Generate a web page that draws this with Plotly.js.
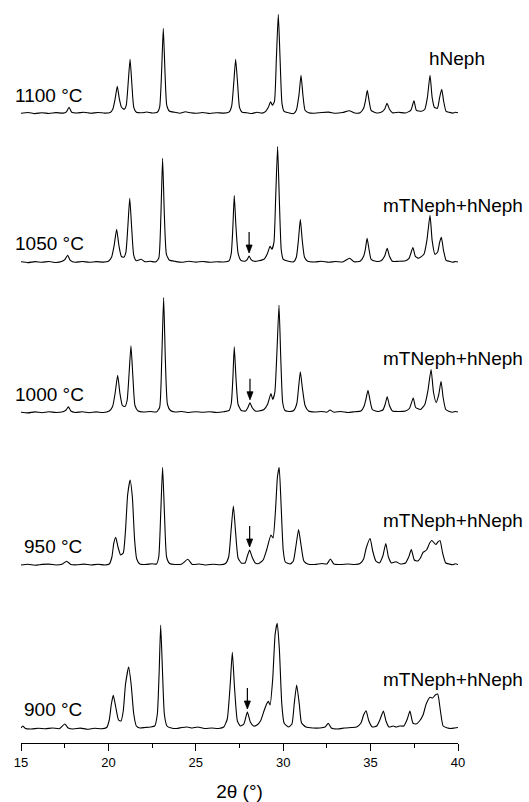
<!DOCTYPE html>
<html>
<head>
<meta charset="utf-8">
<script src="https://cdn.plot.ly/plotly-3.0.1.min.js"></script>
<style>html,body{margin:0;padding:0;background:#fff;}#chart{width:529px;height:802px;}</style>
</head>
<body>
<div id="chart"></div>
<script>
// Sample temperatures (top to bottom) and phase labels
const temperatures = ["1100", "1050", "1000", "950", "900"];
const phases = ["hNeph", "mTNeph+hNeph", "mTNeph+hNeph", "mTNeph+hNeph", "mTNeph+hNeph"];
// Vertical stacking offset of each pattern (arbitrary intensity units)
const offsets = [629.7, 480.7, 330.5, 178, 14];
// Position of the marked mTNeph reflection (2θ) per pattern (null = none)
const markedPeak = [null, 28.05, 28.1, 28.08, 27.95];

// Digitised patterns: [2θ (deg), intensity above baseline (a.u.)]
const p1100 = [[15.0,0],[15.4,0.8],[15.8,-0.3],[16.2,0.6],[16.6,-0.2],[17.0,0.7],[17.4,0.2],[17.6,1.5],[17.75,6],[17.9,1],[18.2,0.3],[18.6,1],[19.0,0],[19.4,0.8],[19.8,0.2],[20.1,0.8],[20.25,4],[20.38,14],[20.51,27],[20.62,15],[20.75,6],[20.9,4],[21.02,8],[21.13,30],[21.24,54],[21.34,30],[21.45,6],[21.6,1],[21.9,0.5],[22.2,1.3],[22.5,0.3],[22.8,1],[22.93,6],[23.04,40],[23.14,85],[23.24,40],[23.34,8],[23.5,2],[23.8,1],[24.1,0],[24.4,1.5],[24.7,0.5],[25.0,0],[25.4,0.8],[25.8,-0.2],[26.2,0.6],[26.6,0.2],[26.9,1.2],[27.05,7],[27.17,30],[27.28,54],[27.39,30],[27.5,6],[27.65,1],[27.9,0.6],[28.2,-0.2],[28.5,1],[28.8,0.2],[29.0,2],[29.15,6],[29.28,11.5],[29.38,8],[29.5,12],[29.61,55],[29.72,99],[29.82,55],[29.93,10],[30.05,2],[30.3,0.5],[30.6,-0.3],[30.75,3],[30.9,18],[31.02,38],[31.13,18],[31.25,3],[31.45,0.5],[31.8,0],[32.2,0.8],[32.6,1.2],[33.0,0],[33.4,0.8],[33.78,2.5],[34.1,0.3],[34.4,0.6],[34.6,5],[34.7,12],[34.81,23],[34.92,12],[35.03,3],[35.3,0.5],[35.6,1],[35.8,4],[35.94,10],[36.08,4],[36.25,0.5],[36.6,1],[37.0,0.3],[37.3,3],[37.48,12.5],[37.62,3],[37.9,2],[38.1,4],[38.25,16],[38.4,38],[38.52,16],[38.65,6],[38.82,5],[38.95,16],[39.07,24],[39.18,12],[39.32,2],[39.5,1],[39.7,0.2],[39.85,1],[40.0,0.5]];

const p1050 = [[15.0,0.5],[15.4,-0.3],[15.8,0.7],[16.2,0],[16.6,0.8],[17.0,-0.2],[17.35,1],[17.52,3],[17.67,7],[17.82,2],[18.1,0],[18.5,0.8],[18.9,0],[19.3,0.7],[19.7,0.2],[20.0,1],[20.18,5],[20.33,17],[20.47,33],[20.6,17],[20.74,6],[20.88,5],[21.0,10],[21.11,35],[21.22,64],[21.33,35],[21.45,7],[21.6,1.5],[21.87,3],[22.1,0.5],[22.4,1],[22.7,0.3],[22.88,4],[23.0,45],[23.1,104],[23.2,48],[23.32,8],[23.5,2],[23.8,1],[24.2,0],[24.6,1],[25.0,0.2],[25.4,0.8],[25.8,0],[26.2,0.6],[26.6,0.3],[26.9,1.5],[27.03,9],[27.12,35],[27.2,66.7],[27.3,35],[27.42,9],[27.58,2],[27.8,1],[27.95,3],[28.05,6.3],[28.15,3],[28.35,1],[28.6,1.5],[28.9,3],[29.08,8],[29.25,16],[29.35,13],[29.47,20],[29.57,65],[29.68,115.7],[29.78,62],[29.89,12],[30.0,3],[30.3,1],[30.6,0.5],[30.75,5],[30.87,22],[30.98,43],[31.09,22],[31.22,5],[31.4,1],[31.8,0.3],[32.2,1],[32.6,0],[33.0,0.8],[33.4,0.3],[33.8,4],[34.05,0.5],[34.4,1],[34.6,6],[34.7,13],[34.8,24],[34.91,13],[35.03,3],[35.3,1],[35.6,1.5],[35.8,6],[35.95,14],[36.08,6],[36.25,1],[36.6,1],[37.0,1.5],[37.2,4],[37.42,14.7],[37.56,6],[37.75,4],[38.05,8],[38.22,22],[38.4,47],[38.52,22],[38.68,8],[38.83,10],[38.95,20],[39.05,25],[39.17,12],[39.32,2],[39.5,1],[39.7,0],[39.85,0.8],[40.0,0.3]];

const p1000 = [[15.0,0.3],[15.4,-0.4],[15.8,0.6],[16.2,-0.2],[16.6,0.7],[17.0,0],[17.4,0.8],[17.58,2.5],[17.71,5.7],[17.85,1.5],[18.1,0],[18.5,0.7],[18.9,-0.2],[19.3,0.6],[19.7,0],[20.05,1.5],[20.24,6],[20.39,20],[20.53,37.3],[20.66,19],[20.8,7],[20.95,6],[21.07,12],[21.18,38],[21.29,66.7],[21.4,36],[21.52,7],[21.7,1.5],[22.0,0.5],[22.4,1],[22.75,0.6],[22.93,5],[23.05,52],[23.16,115],[23.26,52],[23.38,8],[23.55,2],[23.8,0.5],[24.2,1],[24.6,0],[25.0,0.8],[25.4,0.2],[25.8,0.7],[26.2,0],[26.6,0.8],[26.9,2],[27.03,9],[27.12,34],[27.2,65.7],[27.3,34],[27.42,8],[27.6,2],[27.85,1.5],[27.98,5],[28.1,9.7],[28.22,5],[28.4,1.5],[28.6,1.5],[28.9,3],[29.1,8],[29.3,19],[29.4,13],[29.52,20],[29.64,60],[29.76,107.3],[29.86,55],[29.97,10],[30.1,2],[30.4,1],[30.6,2],[30.78,9],[30.88,25],[30.98,40.7],[31.1,24],[31.25,7],[31.45,1.5],[31.8,0.5],[32.2,1],[32.5,0.3],[32.68,2.5],[32.9,0.3],[33.3,1],[33.7,0],[34.1,0.8],[34.45,1.5],[34.62,6],[34.73,13],[34.85,22.3],[34.97,12],[35.1,3],[35.4,1],[35.7,2.5],[35.83,8],[35.95,15.7],[36.08,7],[36.25,1.5],[36.6,1],[37.0,1.5],[37.22,4],[37.44,14.5],[37.58,5],[37.85,3],[38.1,8],[38.28,22],[38.46,43],[38.6,20],[38.75,10],[38.9,18],[39.03,31.3],[39.15,15],[39.3,3],[39.5,1],[39.7,0.3],[39.85,1],[40.0,0.5]];

const p950 = [[15.0,0],[15.4,0.8],[15.8,-0.2],[16.2,0.6],[16.6,0.9],[17.0,0],[17.35,0.8],[17.61,3.7],[17.85,0.5],[18.2,0.2],[18.6,0.9],[19.0,0],[19.4,0.7],[19.8,0],[20.05,1],[20.2,8],[20.31,22],[20.42,27.7],[20.55,18],[20.7,10],[20.85,12],[20.98,35],[21.1,70],[21.24,85],[21.37,68],[21.5,25],[21.62,6],[21.8,1],[22.1,0.5],[22.5,1.2],[22.75,1],[22.88,8],[22.99,50],[23.1,97.7],[23.21,50],[23.33,8],[23.5,1.5],[23.8,0.5],[24.2,1],[24.54,5.7],[24.8,0.5],[25.2,1],[25.6,0],[26.0,0.8],[26.4,0.2],[26.7,1.5],[26.88,8],[27.02,35],[27.15,59],[27.28,32],[27.42,7],[27.6,2],[27.82,2],[27.95,9],[28.08,15],[28.22,8],[28.4,2],[28.6,1.5],[28.85,5],[29.05,15],[29.3,30],[29.42,27],[29.56,55],[29.67,88],[29.77,97.5],[29.88,60],[30.0,15],[30.12,3],[30.4,1],[30.58,4],[30.72,18],[30.88,35.5],[31.02,20],[31.18,4],[31.4,1],[31.8,0.5],[32.2,1.5],[32.5,1],[32.7,6],[32.9,1],[33.3,0.5],[33.7,1],[34.1,0.5],[34.4,1.5],[34.6,6],[34.75,17],[34.97,26.5],[35.12,14],[35.3,4],[35.5,2],[35.7,9],[35.87,21.5],[36.02,8],[36.2,2],[36.45,3.3],[36.7,1],[37.0,2],[37.18,8],[37.33,15.5],[37.5,5],[37.7,4],[37.85,7],[38.0,12.7],[38.2,15],[38.38,22],[38.5,24.5],[38.73,20.5],[38.85,23],[38.97,24.5],[39.12,12],[39.3,2],[39.5,1],[39.7,0.2],[39.85,1.2],[40.0,0.5]];

const p900 = [[15.0,1],[15.1,3],[15.25,0.5],[15.6,0],[16.0,0.8],[16.4,0.2],[16.8,1],[17.2,0.3],[17.5,5],[17.7,1],[18.0,0],[18.4,0.9],[18.8,-0.2],[19.2,0.8],[19.6,0.2],[19.9,1.5],[20.05,9],[20.17,25],[20.28,33.7],[20.42,22],[20.58,9],[20.72,8],[20.85,18],[20.98,45],[21.16,62],[21.3,45],[21.45,15],[21.6,3],[21.8,1],[22.1,1.5],[22.4,2],[22.65,3],[22.8,15],[22.9,55],[22.99,104],[23.09,60],[23.2,15],[23.35,3],[23.6,1],[23.9,0.5],[24.2,1.5],[24.5,2],[24.8,1],[25.1,2],[25.5,0.5],[25.9,1],[26.3,0.5],[26.6,2],[26.8,10],[26.97,45],[27.09,76.7],[27.22,40],[27.38,8],[27.55,3],[27.75,5],[27.95,17],[28.12,7],[28.3,3],[28.5,4],[28.7,8],[28.9,18],[29.05,25],[29.15,27.7],[29.25,24],[29.4,50],[29.54,95],[29.66,105.7],[29.78,80],[29.92,25],[30.05,6],[30.3,2],[30.5,5],[30.63,25],[30.77,44],[30.92,25],[31.05,6],[31.3,2],[31.7,1],[32.1,1],[32.4,2],[32.58,5.7],[32.75,1],[33.1,0],[33.5,1],[33.9,1.5],[34.2,2],[34.45,6],[34.6,14],[34.74,18.3],[34.9,8],[35.1,2],[35.35,3],[35.55,10],[35.73,18],[35.88,8],[36.05,2],[36.3,3],[36.45,2],[36.65,3],[36.9,3],[37.1,10],[37.25,18],[37.42,6],[37.6,5],[37.8,8],[38.0,14],[38.18,25],[38.4,31.7],[38.55,31],[38.7,34],[38.84,35],[38.98,20],[39.15,3],[39.4,1],[39.6,0.5],[39.8,1],[40.0,1.5]];

const patterns = [p1100, p1050, p1000, p950, p900];

// Axis ticks
const xTicks = [15, 20, 25, 30, 35, 40];

const FONT = "Liberation Sans, Arial, Helvetica, sans-serif";

const traces = patterns.map((pts, i) => ({
  type: "scatter",
  mode: "lines",
  x: pts.map(p => p[0]),
  y: pts.map(p => p[1] + offsets[i]),
  line: {color: "#000", width: 1.1, shape: "spline", smoothing: 0.5},
  hoverinfo: "skip",
  showlegend: false
}));

// Text label placement (paper x, plot-unit y of cap centre) — layout only
const leftLabelY = [648, 500, 349, 197, 33.5];
const leftLabelX = [-0.018, -0.018, -0.018, 0.002, 0.002];
const rightLabelY = [685, 538, 385, 223, 63.5];

const annotations = [];
const shapes = [];
temperatures.forEach((t, i) => {
  annotations.push({
    x: leftLabelX[i], y: leftLabelY[i], xref: "paper", yref: "y",
    xanchor: "left", yanchor: "middle", showarrow: false,
    text: t + " °C",
    font: {family: FONT, size: 19, color: "#000"}
  });
  const first = i === 0;
  annotations.push({
    x: first ? 0.929 : 1.1535, y: rightLabelY[i], xref: "paper", yref: "y",
    xanchor: first ? "left" : "right", yanchor: "middle", showarrow: false,
    text: phases[i],
    font: {family: FONT, size: 19, color: "#000"}
  });
  if (markedPeak[i] !== null) {
    // downward arrow whose tip sits just above the marked reflection
    const pts = patterns[i];
    let best = pts[0];
    pts.forEach(p => { if (Math.abs(p[0] - markedPeak[i]) < Math.abs(best[0] - markedPeak[i])) best = p; });
    const xm = markedPeak[i];
    const tip = best[1] + offsets[i] + 3;   // y unit == 1 px
    const hw = 3 / 17.48;                    // 3 px half width in 2θ units
    shapes.push({type: "line", xref: "x", yref: "y", x0: xm, x1: xm, y0: tip + 6, y1: tip + 21,
      line: {color: "#000", width: 1.2}});
    shapes.push({type: "path", xref: "x", yref: "y",
      path: `M ${xm - hw} ${tip + 8} L ${xm + hw} ${tip + 8} L ${xm} ${tip} Z`,
      fillcolor: "#000", line: {color: "#000", width: 0.8}});
  }
});

const layout = {
  width: 529, height: 802,
  margin: {l: 21, r: 71, t: 0, b: 59},
  paper_bgcolor: "#fff", plot_bgcolor: "#fff",
  showlegend: false,
  font: {family: FONT, color: "#000"},
  xaxis: {
    range: [15, 40], showgrid: false, zeroline: false,
    showline: true, linecolor: "#000", linewidth: 1,
    ticks: "outside", ticklen: 7, tickwidth: 1, tickcolor: "#000",
    tickvals: xTicks, ticktext: xTicks.map(String),
    tickfont: {family: FONT, size: 13, color: "#000"},
    minor: {tickvals: [17.5, 22.5, 27.5, 32.5, 37.5], ticks: "outside", ticklen: 4, tickwidth: 1, tickcolor: "#000", showgrid: false},
    title: {text: "2θ (°)", font: {family: FONT, size: 19, color: "#000"}, standoff: 16},
    fixedrange: true
  },
  yaxis: {range: [0, 743], visible: false, fixedrange: true},
  annotations: annotations,
  shapes: shapes
};

Plotly.newPlot("chart", traces, layout, {displayModeBar: false, staticPlot: true});
</script>
</body>
</html>
